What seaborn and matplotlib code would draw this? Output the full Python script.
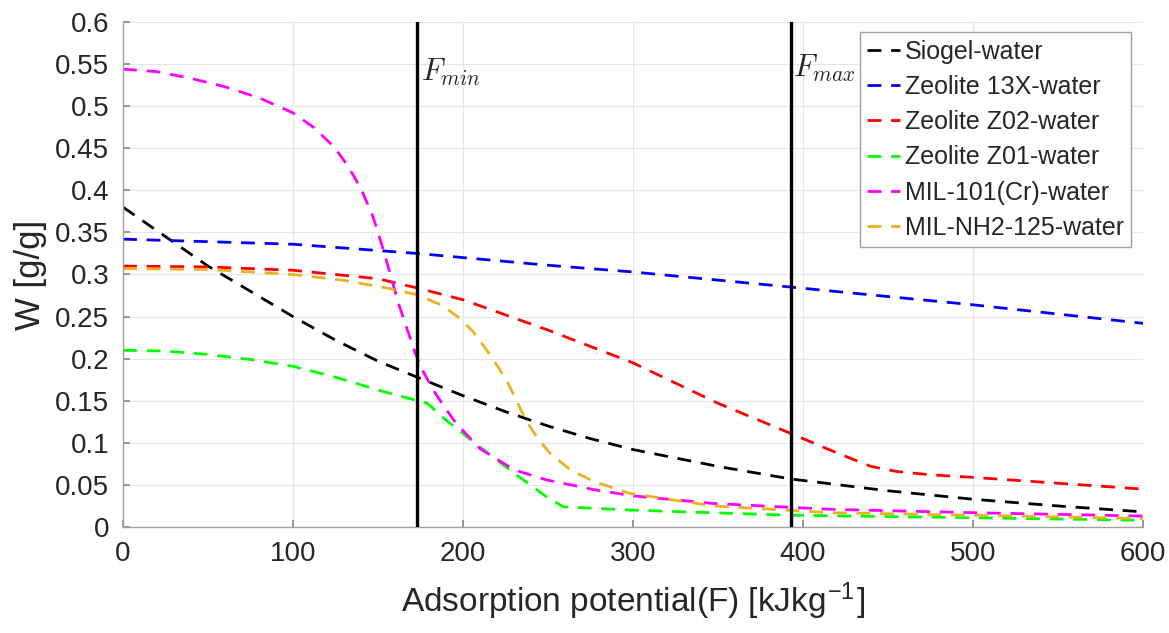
import numpy as np
import pandas as pd
import matplotlib
matplotlib.use("Agg")
import matplotlib.pyplot as plt
import seaborn as sns
from matplotlib.ticker import FuncFormatter, MultipleLocator

# ---- data ----
series_names = ["Siogel-water", "Zeolite 13X-water", "Zeolite Z02-water",
                "Zeolite Z01-water", "MIL-101(Cr)-water", "MIL-NH2-125-water"]

siogel_F = [0, 25, 50, 75, 100, 125, 150, 173, 200, 225, 250, 275, 300, 350, 393, 450, 500, 550, 600]
siogel_W = [0.38, 0.345, 0.31, 0.28, 0.25, 0.222, 0.197, 0.178, 0.156, 0.137, 0.120, 0.105,
            0.092, 0.072, 0.057, 0.043, 0.033, 0.025, 0.018]

z13x_F = [0, 100, 173, 250, 300, 393, 500, 600]
z13x_W = [0.342, 0.336, 0.325, 0.311, 0.303, 0.285, 0.264, 0.242]

z02_F = [0, 50, 100, 150, 173, 200, 250, 300, 350, 393, 420, 440, 455, 475, 500, 550, 600]
z02_W = [0.31, 0.309, 0.305, 0.295, 0.284, 0.270, 0.234, 0.195, 0.147, 0.111, 0.088,
         0.072, 0.066, 0.062, 0.059, 0.052, 0.045]

z01_F = [0, 25, 50, 75, 100, 125, 153, 179, 190, 210, 230, 249, 259, 300, 392, 500, 600]
z01_W = [0.21, 0.209, 0.205, 0.199, 0.191, 0.178, 0.161, 0.147, 0.127, 0.095, 0.064,
         0.036, 0.024, 0.020, 0.014, 0.011, 0.008]

mil101_F = [0, 20, 40, 60, 80, 100, 112, 124, 132, 140, 147, 152, 157, 162, 167, 172,
            177, 183, 190, 196, 210, 230, 249, 278, 300, 347, 416, 500, 600]
mil101_W = [0.544, 0.541, 0.533, 0.523, 0.510, 0.492, 0.475, 0.452, 0.430, 0.402, 0.369,
            0.337, 0.302, 0.266, 0.236, 0.206, 0.183, 0.161, 0.140, 0.123, 0.093, 0.068,
            0.056, 0.044, 0.037, 0.028, 0.021, 0.017, 0.013]

milnh2_F = [0, 50, 100, 130, 155, 173, 188, 198, 206, 214, 220, 226, 231, 237, 244, 251,
            263, 277, 298, 347, 416, 500, 600]
milnh2_W = [0.307, 0.306, 0.300, 0.293, 0.284, 0.276, 0.263, 0.248, 0.232, 0.210, 0.192,
            0.173, 0.152, 0.127, 0.105, 0.088, 0.068, 0.054, 0.040, 0.025, 0.017, 0.014, 0.010]

F_min = 173
F_max = 393

all_F = [siogel_F, z13x_F, z02_F, z01_F, mil101_F, milnh2_F]
all_W = [siogel_W, z13x_W, z02_W, z01_W, mil101_W, milnh2_W]

colors = ["#000000", "#0000FF", "#FF0000", "#00FF00", "#FF00FF", "#EDB120"]

# ---- style ----
sns.set_theme(style="white")
plt.rcParams['font.family'] = ['Liberation Sans', 'DejaVu Sans']
plt.rcParams['mathtext.fontset'] = 'cm'

fig = plt.figure(figsize=(11.69, 6.33), dpi=100)
ax = fig.add_axes([123/1169, 1 - 527/633, (1143-123)/1169, (527-22)/633])

frames = []
for name, F, W in zip(series_names, all_F, all_W):
    frames.append(pd.DataFrame({"F": F, "W": W, "series": name}))
df = pd.concat(frames, ignore_index=True)

for name, col in zip(series_names, colors):
    sub = df[df["series"] == name]
    sns.lineplot(data=sub, x="F", y="W", ax=ax, color=col, linewidth=2.0,
                 sort=False, label=name, estimator=None)
for line in ax.get_lines():
    line.set_dashes((5, 3.5))

ax.axvline(F_min, color="black", linewidth=2.4, zorder=5)
ax.axvline(F_max, color="black", linewidth=2.4, zorder=5)
ax.text(F_min + 2, 0.540, r"$F_{min}$", fontsize=22, ha="left", va="center")
ax.text(F_max + 1, 0.545, r"$F_{max}$", fontsize=22, ha="left", va="center")

ax.set_xlim(0, 600)
ax.set_ylim(0, 0.6)
ax.xaxis.set_major_locator(MultipleLocator(100))
ax.yaxis.set_major_locator(MultipleLocator(0.05))
ax.yaxis.set_major_formatter(FuncFormatter(lambda v, p: f"{round(v, 2):g}"))
ax.grid(True, color="#E6E6E6", linewidth=0.8)
ax.tick_params(axis="both", direction="in", length=5, color="#8A8A8A",
               labelsize=20, labelcolor="#262626", pad=10, bottom=True, left=True)
for s in ["top", "right"]:
    ax.spines[s].set_visible(False)
for s in ["left", "bottom"]:
    ax.spines[s].set_color("#A0A0A0")
    ax.spines[s].set_linewidth(1.0)

ax.set_xlabel(r"Adsorption potential(F) [kJkg$^{\mathregular{-1}}$]", fontsize=24,
              color="#262626", labelpad=10)
ax.set_ylabel("W [g/g]", fontsize=25, color="#262626", labelpad=6)

leg = ax.legend(loc="upper right", bbox_to_anchor=(0.996, 0.995), fontsize=18,
                frameon=True, fancybox=False, framealpha=1, edgecolor="#A0A0A0",
                handlelength=1.3, handletextpad=0.2, borderpad=0.3,
                labelspacing=0.45, borderaxespad=0.3)
leg.get_frame().set_linewidth(1.0)
for h in leg.get_lines():
    h.set_linewidth(2.0)

fig.savefig("out.png", dpi=100)
